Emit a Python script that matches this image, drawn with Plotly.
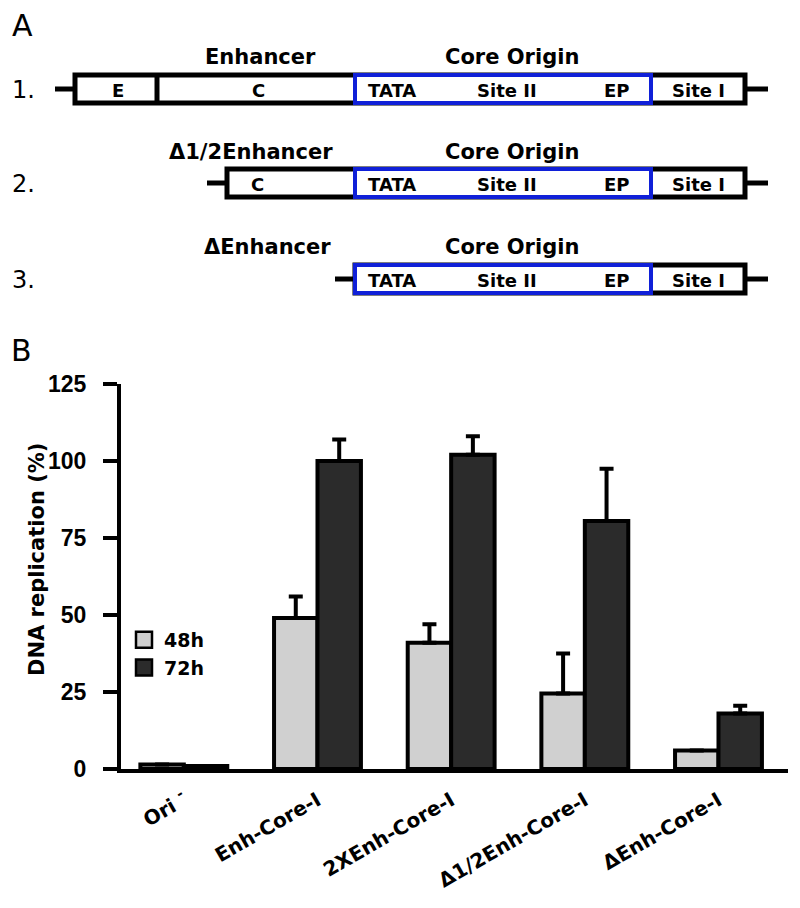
import plotly.graph_objects as go

# ---------------- data (panel B) ----------------
categories = ["Ori <sup>-</sup>", "Enh-Core-I", "2XEnh-Core-I", "\u03941/2Enh-Core-I", "\u0394Enh-Core-I"]
series_names = ["48h", "72h"]
values_48h = [1.5, 49, 41, 24.5, 6]
errors_48h = [0, 7, 6, 13, 0]
values_72h = [1, 100, 102, 80.5, 18]
errors_72h = [0, 7, 6, 17, 2.5]
y_ticks = [0, 25, 50, 75, 100, 125]

# ---------------- schematic (panel A) ----------------
row_numbers = ["1.", "2.", "3."]
row_left_headers = ["Enhancer", "\u03941/2Enhancer", "\u0394Enhancer"]
row_core_header = "Core Origin"
row_enh_labels = [["E", "C"], ["C"], []]
core_labels = ["TATA", "Site II", "EP"]
site1_label = "Site I"

# page body has an 8px margin: figure is sized so that it fits the window
OFF = 8
W, H = 800 - 2 * OFF, 908 - 2 * OFF
FONT = "DejaVu Sans, Arial, sans-serif"
ARIAL = "Arial, Liberation Sans, Helvetica, sans-serif"
LIGHT = "#d0d0d0"
DARK = "#2b2b2b"
colors = [LIGHT, DARK]


def px(x):
    return (x - OFF) / W


def py(y):
    return 1 - (y - OFF) / H


fig = go.Figure()
for name, vals, errs, col in zip(series_names, [values_48h, values_72h],
                                  [errors_48h, errors_72h], colors):
    fig.add_trace(go.Bar(
        name=name, x=categories, y=vals, showlegend=False,
        marker=dict(color=col, line=dict(color="black", width=4)),
        error_y=dict(type="data", array=errs, arrayminus=[0] * len(errs),
                     symmetric=False, color="black", thickness=4, width=7),
    ))
# legend entries (larger square swatches)
for name, col in zip(series_names, colors):
    fig.add_trace(go.Scatter(
        name=name, x=[None], y=[None], mode="markers", showlegend=True,
        marker=dict(symbol="square", size=16, color=col,
                    line=dict(color="black", width=2.5)),
    ))

plot_left, plot_right = 121, 788
plot_top, plot_bottom = 384, 769

fig.update_layout(
    width=W, height=H, autosize=False,
    margin=dict(l=0, r=0, t=0, b=0),
    paper_bgcolor="white", plot_bgcolor="white",
    barmode="group", bargap=0.35, bargroupgap=0,
    font=dict(family=FONT, color="black"),
    showlegend=True,
    legend=dict(x=px(124), y=py(621), xanchor="left", yanchor="top",
                font=dict(size=19, weight="bold", family=FONT),
                bgcolor="rgba(0,0,0,0)", tracegroupgap=0, itemwidth=30),
    xaxis=dict(domain=[px(plot_left), px(plot_right)], range=[-0.47, 4.52],
               showline=True, linecolor="black", linewidth=4,
               ticks="", tickangle=-30, ticklabelstandoff=8,
               tickfont=dict(size=20, weight="bold", family=FONT),
               showgrid=False, zeroline=False, automargin=False,
               type="category", fixedrange=True),
    yaxis=dict(domain=[py(plot_bottom), py(plot_top)], range=[0, 125],
               tickvals=y_ticks, ticktext=[str(v) for v in y_ticks],
               showline=True, linecolor="black", linewidth=4,
               ticks="outside", ticklen=14, tickwidth=4, tickcolor="black",
               ticklabelstandoff=12,
               tickfont=dict(size=23, weight="bold", family=ARIAL),
               showgrid=False, zeroline=False, automargin=False, fixedrange=True),
)

annotations = []
shapes = []


def text(x, y, s, size, bold=True, anchor="center"):
    annotations.append(dict(x=px(x), y=py(y), xref="paper", yref="paper", text=s,
                            showarrow=False, xanchor=anchor, yanchor="middle",
                            font=dict(size=size, family=FONT, color="black",
                                      weight="bold" if bold else "normal")))


# panel letters
text(22, 26, "A", 30, bold=False)
text(21, 350, "B", 30, bold=False)

# y-axis title
annotations.append(dict(x=px(37), y=py(560), xref="paper", yref="paper",
                        text="DNA replication (%)", textangle=-90, showarrow=False,
                        xanchor="center", yanchor="middle",
                        font=dict(size=21, family=FONT, color="black", weight="bold")))

# schematic geometry (pixel layout)
row_mid = [89, 183, 279]
row_box_left = [75, 227, 355]
row_header_y = [57, 152, 247]
row_header_x = [260, 251, 267]
box_right = 745
core_left, core_right = 355, 651
half_h = 14
enh_label_x = [[118, 258], [257], []]
core_label_x = [392, 507, 617]
site1_x = 698

for i in range(3):
    m = row_mid[i]
    bl = row_box_left[i]
    text(10, m + 1, row_numbers[i], 24, bold=False, anchor="left")
    text(row_header_x[i], row_header_y[i], row_left_headers[i], 21)
    text(512, row_header_y[i], row_core_header, 21)
    # stubs
    shapes.append(dict(type="line", xref="paper", yref="paper",
                       x0=px(bl - 20), x1=px(bl), y0=py(m), y1=py(m),
                       line=dict(color="black", width=5)))
    shapes.append(dict(type="line", xref="paper", yref="paper",
                       x0=px(box_right), x1=px(box_right + 23), y0=py(m), y1=py(m),
                       line=dict(color="black", width=5)))
    # black outer box
    shapes.append(dict(type="rect", xref="paper", yref="paper",
                       x0=px(bl), x1=px(box_right), y0=py(m + half_h), y1=py(m - half_h),
                       line=dict(color="black", width=5), fillcolor="white"))
    # blue core box
    shapes.append(dict(type="rect", xref="paper", yref="paper",
                       x0=px(core_left), x1=px(core_right), y0=py(m + half_h), y1=py(m - half_h),
                       line=dict(color="#1020d8", width=4), fillcolor="white"))
    if i == 0:
        shapes.append(dict(type="line", xref="paper", yref="paper",
                           x0=px(157), x1=px(157), y0=py(m + half_h), y1=py(m - half_h),
                           line=dict(color="black", width=5)))
    for lab, lx in zip(row_enh_labels[i], enh_label_x[i]):
        text(lx, m + 1, lab, 18)
    for lab, lx in zip(core_labels, core_label_x):
        text(lx, m + 1, lab, 18)
    text(site1_x, m + 1, site1_label, 18)

fig.update_layout(annotations=annotations, shapes=shapes)

fig.write_html("out.html")
